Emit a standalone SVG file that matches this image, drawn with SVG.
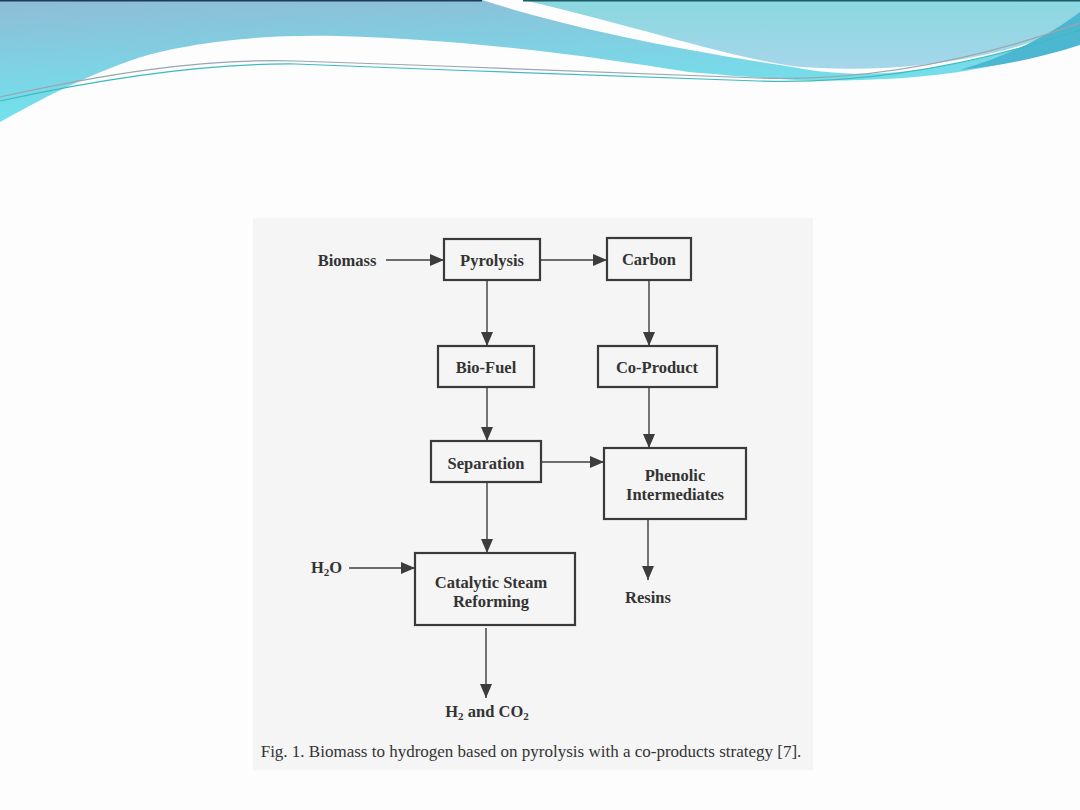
<svg xmlns="http://www.w3.org/2000/svg" width="1080" height="810" viewBox="0 0 1080 810">
<defs>
<linearGradient id="gL" x1="0" y1="0" x2="0.3" y2="1">
<stop offset="0" stop-color="#8fbcd6"/>
<stop offset="1" stop-color="#6ee6f0"/>
</linearGradient>
<linearGradient id="gR" x1="0" y1="0" x2="0" y2="1">
<stop offset="0" stop-color="#8ad8df"/>
<stop offset="1" stop-color="#a6d6ea"/>
</linearGradient>
<marker id="ah" markerUnits="userSpaceOnUse" markerWidth="15" markerHeight="13" refX="14" refY="6" orient="auto">
<path d="M0,0 L14,6 L0,12 Z" fill="#3c3c3c"/>
</marker>
<style>
.box{fill:none;stroke:#3a3a3a;stroke-width:2.2}
.lbl{font-family:"Liberation Serif","Times New Roman",serif;font-weight:bold;font-size:16.5px;fill:#333;text-anchor:middle}
.start{text-anchor:start}
.cap{font-family:"Liberation Serif","Times New Roman",serif;font-size:17px;fill:#333;text-anchor:middle}
.con{stroke:#3c3c3c;stroke-width:1.4;fill:none;marker-end:url(#ah)}
</style>
</defs>
<rect width="1080" height="810" fill="#fdfdfd"/>
<g id="header">
<path d="M0,0 L482,0 C560,25 650,45 792,67 C850,78 900,75 964,62 C1010,52 1050,40 1080,20 L1080,40 C1030,60 960,78 861,80 C800,82 760,78 689,72 C600,58 480,40 337,36 C250,34 180,45 138,58 C80,78 40,100 0,122 Z" fill="url(#gL)"/>
<path d="M523,0 L1080,0 L1080,20 C1040,42 1000,55 930,64 C880,70 830,70 792,66 C720,55 650,30 523,0 Z" fill="url(#gR)"/>
<path d="M1080,12 L1080,45 C1040,58 1000,66 960,70 C1010,55 1050,35 1080,12 Z" fill="#4db6d0"/>
<path d="M0,97 C100,75 200,58 296,61 C450,66 600,72 758,78 C880,82 990,55 1080,23" fill="none" stroke="#9aa6ae" stroke-width="1.2"/>
<path d="M0,101 C100,79 200,63 296,64 C450,70 600,76 758,81 C880,85 990,60 1080,30" fill="none" stroke="#3cbcc0" stroke-width="1.2"/>
<rect x="0" y="0" width="482" height="1.5" fill="#1c3c5c"/>
<rect x="523" y="0" width="557" height="1.5" fill="#1f5a66"/>
</g>
<rect x="253" y="218" width="560" height="552" fill="#f5f5f5"/>
<g id="connectors">
<line class="con" x1="386" y1="260" x2="444" y2="260"/>
<line class="con" x1="540" y1="260" x2="607" y2="260"/>
<line class="con" x1="487" y1="280" x2="487" y2="346"/>
<line class="con" x1="649" y1="280" x2="649" y2="346"/>
<line class="con" x1="487" y1="387" x2="487" y2="441"/>
<line class="con" x1="649" y1="387" x2="649" y2="448"/>
<line class="con" x1="541" y1="462" x2="604" y2="462"/>
<line class="con" x1="487" y1="482" x2="487" y2="553"/>
<line class="con" x1="349" y1="568" x2="415" y2="568"/>
<line class="con" x1="648" y1="519" x2="648" y2="580"/>
<line class="con" x1="486" y1="628" x2="486" y2="698"/>
</g>
<g id="biomass"><text class="lbl" x="347" y="266">Biomass</text></g>
<g id="pyrolysis"><rect class="box" x="444" y="239" width="96" height="41"/><text class="lbl" x="492" y="266">Pyrolysis</text></g>
<g id="carbon"><rect class="box" x="607" y="238" width="84" height="42"/><text class="lbl" x="649" y="265">Carbon</text></g>
<g id="biofuel"><rect class="box" x="438" y="346" width="96" height="41"/><text class="lbl" x="486" y="373">Bio-Fuel</text></g>
<g id="coproduct"><rect class="box" x="598" y="346" width="119" height="41"/><text class="lbl" x="657" y="373">Co-Product</text></g>
<g id="separation"><rect class="box" x="431" y="441" width="110" height="41"/><text class="lbl" x="486" y="469">Separation</text></g>
<g id="phenolic"><rect class="box" x="604" y="448" width="142" height="71"/><text class="lbl" x="675" y="481">Phenolic</text><text class="lbl" x="675" y="500">Intermediates</text></g>
<g id="h2o"><text class="lbl start" x="311" y="573">H<tspan font-size="11" dy="3">2</tspan><tspan dy="-3">O</tspan></text></g>
<g id="reforming"><rect class="box" x="415" y="553" width="160" height="72"/><text class="lbl" x="491" y="588">Catalytic Steam</text><text class="lbl" x="491" y="607">Reforming</text></g>
<g id="resins"><text class="lbl" x="648" y="603">Resins</text></g>
<g id="products"><text class="lbl" x="487" y="717">H<tspan font-size="11" dy="3">2</tspan><tspan dy="-3"> and CO</tspan><tspan font-size="11" dy="3">2</tspan></text></g>
<g id="caption"><text class="cap" x="531" y="757">Fig. 1. Biomass to hydrogen based on pyrolysis with a co-products strategy [7].</text></g>
</svg>
